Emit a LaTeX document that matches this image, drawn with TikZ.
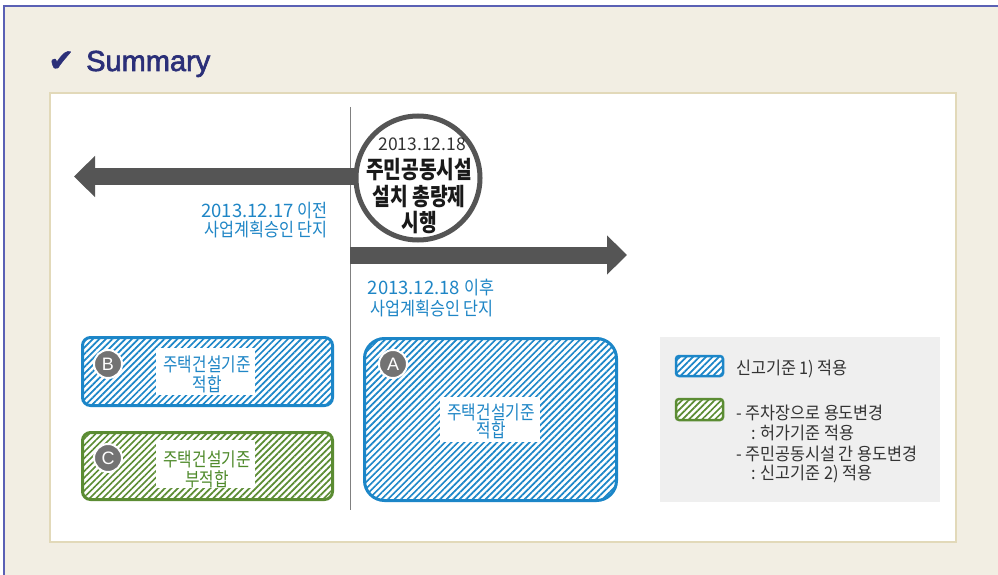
\documentclass[tikz,border=0pt]{standalone}
\usepackage{fontspec}
\usepackage{graphicx}
\setmainfont{Noto Sans CJK KR}
\newfontfamily\krfont{Noto Sans CJK KR}
\newfontfamily\latfont{Liberation Sans}
\newfontfamily\symfont{DejaVu Sans}
\usetikzlibrary{patterns.meta,arrows.meta}
\newcommand{\nar}[2][0.8]{\scalebox{#1}[1]{#2}}
\definecolor{pagebg}{HTML}{F2EEE3}
\definecolor{framebl}{HTML}{5A60B4}
\definecolor{navy}{HTML}{2B2F78}
\definecolor{panelbd}{HTML}{E2D9B9}
\definecolor{cblue}{HTML}{1C86C8}
\definecolor{tblue}{HTML}{1F86C6}
\definecolor{cgreen}{HTML}{5B8C33}
\definecolor{tgreen}{HTML}{4F8A2B}
\definecolor{agray}{HTML}{555555}
\definecolor{lgray}{HTML}{737373}
\definecolor{vgray}{HTML}{808080}
\definecolor{legbg}{HTML}{EFEFEF}
\definecolor{ltext}{HTML}{333333}
\pgfdeclarelayer{back}
\pgfdeclarelayer{mid}
\pgfsetlayers{back,mid,main}
\tikzset{
  fs/.style={font=\krfont\fontsize{#1}{#1}\selectfont},
  bigarrow/.style={draw=agray, line width=17pt, -{Triangle[length=21pt,width=40pt]}},
  bluehatch/.style={preaction={fill=white}, pattern={Lines[angle=45,distance=4.6pt,line width=1.7pt]}, pattern color=cblue},
  greenhatch/.style={preaction={fill=white}, pattern={Lines[angle=45,distance=4.6pt,line width=1.7pt]}, pattern color=cgreen},
  bluebox/.style={draw=cblue, line width=3pt, bluehatch, inner sep=0pt},
  greenbox/.style={draw=cgreen, line width=3pt, greenhatch, inner sep=0pt},
  whitebox/.style={fill=white, inner sep=0pt},
  letter/.style={circle, fill=lgray, draw=white, line width=2pt, minimum size=28pt, inner sep=0pt, text=white, font=\latfont\fontsize{18}{18}\selectfont},
  btext/.style={fs=19, text=tblue, anchor=base, inner sep=0pt},
  gtext/.style={fs=19, text=tgreen, anchor=base, inner sep=0pt},
  captext/.style={fs=18.5, text=tblue, inner sep=0pt},
  legtext/.style={fs=17.5, text=ltext, anchor=base west, inner sep=0pt},
  circtext/.style={font=\krfont\bfseries\fontsize{24}{24}\selectfont, text=black!90, anchor=base, inner sep=0pt},
}
\begin{document}
\begin{tikzpicture}[x=1pt,y=-1pt]
\useasboundingbox (0,0) rectangle (998,575);
\begin{pgfonlayer}{back}
  \fill[white] (0,0) rectangle (998,575);
  \fill[pagebg] (4,6) rectangle (998,575);
  \draw[framebl, line width=2pt] (4,575) -- (4,6) -- (998,6);
  \draw[panelbd, line width=2pt, fill=white] (50,93) rectangle (956,542);
\end{pgfonlayer}

% title
\node[anchor=base west, inner sep=0pt, text=navy, font=\symfont\fontsize{31}{31}\selectfont\addfontfeature{FakeBold=1.5}] (chk) at (48,71) {✔};
\node[anchor=base west, inner sep=0pt, text=navy, font=\latfont\fontsize{29}{29}\selectfont\addfontfeature{FakeBold=2.2}] (title) at (86,71) {Summary};

% vertical divider
\coordinate (vtop) at (350,107);
\coordinate (vbot) at (350,510);
\begin{pgfonlayer}{mid}
  \draw[vgray, line width=1pt] (vtop) -- (vbot);
\end{pgfonlayer}

% central circle
\node[circle, draw=agray, line width=5pt, fill=white, minimum size=124pt, inner sep=0pt] (circ) at (418,178) {};
\node[fs=17.5, text=ltext, anchor=base, inner sep=0pt] (cdate) at (422,150) {2013.12.18};
\node[circtext] (c1) at (419,178) {\nar{주민공동시설}};
\node[circtext] (c2) at (419,205) {\nar{설치 총량제}};
\node[circtext] (c3) at (419,231) {\nar{시행}};

% arrows
\coordinate (lend) at (74,176.5);
\coordinate (rstart) at (350,255);
\coordinate (rend) at (627,255);
\begin{pgfonlayer}{mid}
  \draw[bigarrow] (circ.center |- lend) -- (lend);
  \draw[bigarrow, -{Triangle[length=20pt,width=38pt]}] (rstart) -- (rend);
\end{pgfonlayer}

% blue captions
\node[captext, anchor=base east] (l1) at (328,217) {2013.12.17 \nar[0.88]{이전}};
\node[captext, anchor=base east] (l2) at (328,236) {\nar[0.88]{사업계획승인 단지}};
\node[captext, anchor=base] (r1) at (431,294) {2013.12.18 \nar[0.88]{이후}};
\node[captext, anchor=base] (r2) at (432,315) {\nar[0.88]{사업계획승인 단지}};

% box B
\node[bluebox, rounded corners=8pt, minimum width=250pt, minimum height=68pt] (boxB) at (207.5,371.5) {};
\node[whitebox, minimum width=99pt, minimum height=47pt] (wB) at (205.5,371.5) {};
\node[btext] (tB1) at (207,371) {\nar[0.83]{주택건설기준}};
\node[btext] (tB2) at (207,391) {\nar[0.83]{적합}};
\node[letter] (cB) at (108,364) {B};

% box C
\node[greenbox, rounded corners=8pt, minimum width=250pt, minimum height=67pt] (boxC) at (207.5,466) {};
\node[whitebox, minimum width=99pt, minimum height=48pt] (wC) at (205.5,464) {};
\node[gtext] (tC1) at (207,466) {\nar[0.83]{주택건설기준}};
\node[gtext] (tC2) at (207,486) {\nar[0.83]{부적합}};
\node[letter] (cC) at (108,458) {C};

% box A
\node[bluebox, rounded corners=20pt, minimum width=252pt, minimum height=162pt] (boxA) at (490.5,419.5) {};
\node[whitebox, minimum width=100pt, minimum height=45pt] (wA) at (490,419.5) {};
\node[btext] (tA1) at (491,419) {\nar[0.83]{주택건설기준}};
\node[btext] (tA2) at (491,437) {\nar[0.83]{적합}};
\node[letter] (cA) at (393,364) {A};

% legend
\node[fill=legbg, minimum width=280pt, minimum height=165pt, inner sep=0pt] (leg) at (800,419.5) {};
\node[draw=cblue, line width=2.5pt, bluehatch, rounded corners=3pt, minimum width=47pt, minimum height=20pt, inner sep=0pt] (swB) at (699.5,366) {};
\node[draw=cgreen, line width=2.5pt, greenhatch, rounded corners=3pt, minimum width=47pt, minimum height=21pt, inner sep=0pt] (swG) at (699.5,409.5) {};
\node[legtext] (lg1) at (736,374) {\nar[0.93]{신고기준 1) 적용}};
\node[legtext] (lg2) at (736,419) {\nar[0.93]{- 주차장으로 용도변경}};
\node[legtext] (lg3) at (751,439) {\nar[0.93]{: 허가기준 적용}};
\node[legtext] (lg4) at (736,460) {\nar[0.93]{- 주민공동시설 간 용도변경}};
\node[legtext] (lg5) at (751,479) {\nar[0.93]{: 신고기준 2) 적용}};
\end{tikzpicture}
\end{document}
